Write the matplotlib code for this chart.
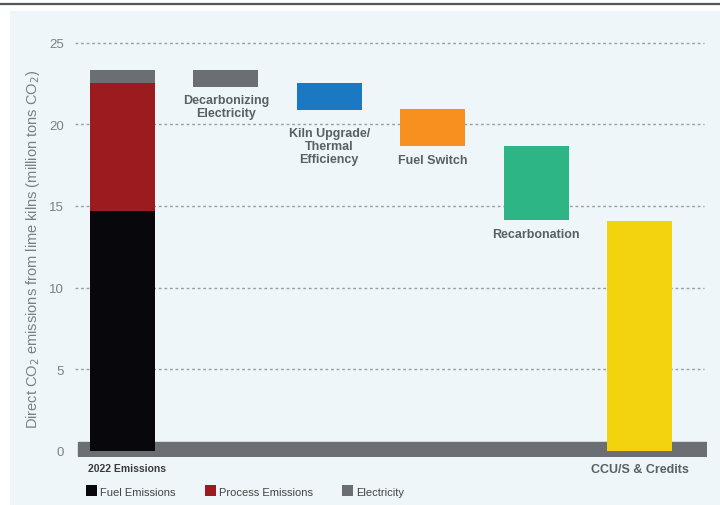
import matplotlib.pyplot as plt
from matplotlib.patches import Rectangle
from matplotlib.lines import Line2D

# 2022 emissions split (million tons CO2)
fuel_emissions = 14.7
process_emissions = 7.8
electricity = 0.8

# waterfall steps
step_labels = ["Decarbonizing\nElectricity", "Kiln Upgrade/\nThermal\nEfficiency",
               "Fuel Switch", "Recarbonation", "CCU/S & Credits"]
step_high = [23.3, 22.55, 20.95, 18.7, 14.05]
step_low = [22.3, 20.9, 18.7, 14.15, 0.0]
step_colors = ["#6b6e72", "#1b78c2", "#f7901e", "#2db585", "#f3d20e"]

y_ticks = [0, 5, 10, 15, 20, 25]

BG = "#eef6f9"
TEXT = "#5a5f66"

plt.rcParams["font.family"] = ["Liberation Sans", "DejaVu Sans"]

fig = plt.figure(figsize=(7.2, 5.06), dpi=100)
fig.patch.set_facecolor("white")
fig.add_artist(Rectangle((10 / 720, 0), 1, 1 - 12 / 506, transform=fig.transFigure,
                         facecolor=BG, edgecolor="none", zorder=-5))
fig.add_artist(Line2D([0, 1], [1 - 5 / 506, 1 - 5 / 506], transform=fig.transFigure,
                      color="#555555", lw=1.6))

ax = fig.add_axes([75 / 720, (506 - 458) / 506, 632 / 720, 418 / 506])
ax.set_facecolor("none")

width = 0.63
b1 = ax.bar(0, fuel_emissions, width, color="#08080c", zorder=3, label="Fuel Emissions")
b2 = ax.bar(0, process_emissions, width, bottom=fuel_emissions, color="#9b1b1f", zorder=3,
            label="Process Emissions")
b3 = ax.bar(0, electricity, width, bottom=fuel_emissions + process_emissions, color="#6b6e72",
            zorder=3, label="Electricity")

for i, (hi, lo, c) in enumerate(zip(step_high, step_low, step_colors)):
    ax.bar(i + 1, hi - lo, width, bottom=lo, color=c, zorder=3)

# step labels under each box
label_offsets = [0.45, 1.05, 0.55, 0.5]
for i in range(4):
    ax.text(i + 1, step_low[i] - label_offsets[i], step_labels[i], ha="center", va="top",
            fontsize=9, fontweight="bold", color=TEXT, linespacing=1.15)
ax.text(5, -0.75, step_labels[4], ha="center", va="top", fontsize=9,
        fontweight="bold", color=TEXT)
ax.text(-0.33, -0.75, "2022 Emissions", ha="left", va="top", fontsize=7.5,
        fontweight="bold", color="#3a3a3a")

# zero band
ax.axhspan(-0.3, 0.55, xmin=0.005, xmax=1.0, color="#6b6e72", zorder=2)

ax.set_xlim(-0.459, 5.653)
ax.set_ylim(-0.37, 25.22)
ax.set_yticks(y_ticks)
ax.tick_params(axis="y", length=0, labelsize=9.5, labelcolor="#7a7f85", pad=8)
ax.set_xticks([])
for t in y_ticks[1:]:
    ax.axhline(t, xmin=0, xmax=0.995, color="#9a9ea3", lw=1.0,
               linestyle=(0, (2, 2)), zorder=1)
for s in ax.spines.values():
    s.set_visible(False)

ax.set_ylabel("Direct CO$_2$ emissions from lime kilns (million tons CO$_2$)",
              fontsize=10.5, color="#7a7f85", labelpad=5)

fig.legend(handles=[b1, b2, b3], loc="center left", bbox_to_anchor=(76 / 720, 1 - 492 / 506),
           ncol=3, frameon=False, fontsize=8, handlelength=1.0, handleheight=1.1,
           handletextpad=0.3, columnspacing=2.6, labelcolor="#444444")

fig.savefig("out.png", dpi=100, facecolor="white")
